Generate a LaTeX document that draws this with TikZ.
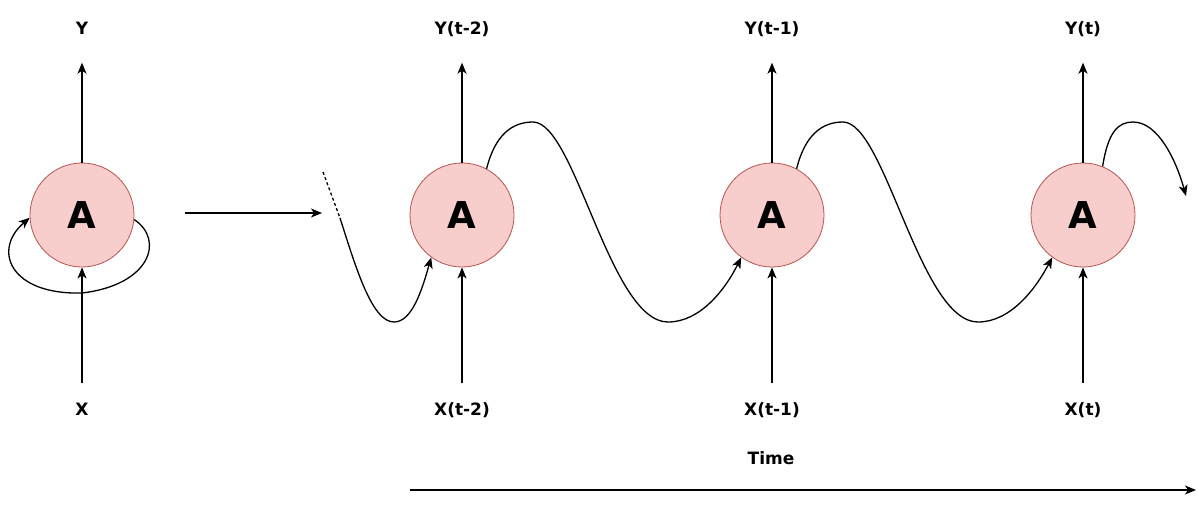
\documentclass[tikz,border=0pt]{standalone}
\usepackage{fontspec}
\setmainfont{DejaVu Sans}
\usepackage{xcolor}
\usetikzlibrary{arrows.meta}
\definecolor{rosa}{RGB}{248,206,204}
\definecolor{granate}{RGB}{184,84,80}
\definecolor{negro}{RGB}{0,0,0}

\begin{document}
\begin{tikzpicture}[x=1pt, y=-1pt,
    celda/.style={circle, draw=granate, fill=rosa, line width=0.8pt, minimum size=104pt, inner sep=0pt, font=\fontsize{37}{40}\selectfont\bfseries},
    etiqueta/.style={inner sep=0pt, text height=13pt, text depth=4pt, font=\fontsize{17}{20}\selectfont\bfseries},
    flecha/.style={draw=negro, line width=1.3pt, -{Stealth[length=11pt, width=9pt, inset=3pt]}},
    salida/.style={flecha, shorten >=24pt},
    entrada/.style={flecha, shorten <=19pt}]
    \useasboundingbox (0,0) rectangle (1198,504);

    % celda plegada
    \node[celda] (a0) at (82,215) {A};
    \node[etiqueta] (y0) at (82,30) {Y};
    \node[etiqueta] (x0) at (82,411) {X};
    \draw[salida] (a0) -- (y0);
    \draw[entrada] (x0) -- (a0);
    \draw[flecha] (a0.-5) .. controls (165,240) and (150,285) .. (82,293) .. controls (10,295) and (-8,250) .. (a0.183);

    % despliegue
    \coordinate (p0) at (185,213);
    \coordinate (p1) at (322,213);
    \draw[flecha] (p0) -- (p1);

    % red desplegada
    \node[celda] (a1) at (462,215) {A};
    \node[etiqueta] (y1) at (462,30) {Y(t-2)};
    \node[etiqueta] (x1) at (462,411) {X(t-2)};
    \draw[salida] (a1) -- (y1);
    \draw[entrada] (x1) -- (a1);

    \node[celda] (a2) at (772,215) {A};
    \node[etiqueta] (y2) at (772,30) {Y(t-1)};
    \node[etiqueta] (x2) at (772,411) {X(t-1)};
    \draw[salida] (a2) -- (y2);
    \draw[entrada] (x2) -- (a2);

    \node[celda] (a3) at (1083,215) {A};
    \node[etiqueta] (y3) at (1083,30) {Y(t)};
    \node[etiqueta] (x3) at (1083,411) {X(t)};
    \draw[salida] (a3) -- (y3);
    \draw[entrada] (x3) -- (a3);

    % estado oculto
    \coordinate (corte) at (323,172);
    \coordinate (entra) at (340,218);
    \coordinate (sig) at (1186,196);
    \draw[line width=1.3pt, dash pattern=on 3pt off 2.5pt] (corte) -- (entra);
    \draw[flecha] (entra) .. controls (356,268) and (372,322) .. (394,322) .. controls (412,322) and (422,290) .. (a1.234);
    \draw[flecha] (a1.62) .. controls (495,135) and (512,122) .. (533,122) .. controls (575,122) and (610,322) .. (668,322) .. controls (700,322) and (725,290) .. (a2.234);
    \draw[flecha] (a2.62) .. controls (805,135) and (822,122) .. (843,122) .. controls (885,122) and (920,322) .. (978,322) .. controls (1010,322) and (1035,290) .. (a3.234);
    \draw[flecha] (a3.68) .. controls (1108,132) and (1118,122) .. (1133,122) .. controls (1158,122) and (1176,160) .. (sig);

    % eje de tiempo
    \coordinate (t0) at (410,490);
    \coordinate (t1) at (1196,490);
    \draw[flecha] (t0) -- (t1);
    \node[etiqueta] (tiempo) at (771,460) {Time};
\end{tikzpicture}
\end{document}
